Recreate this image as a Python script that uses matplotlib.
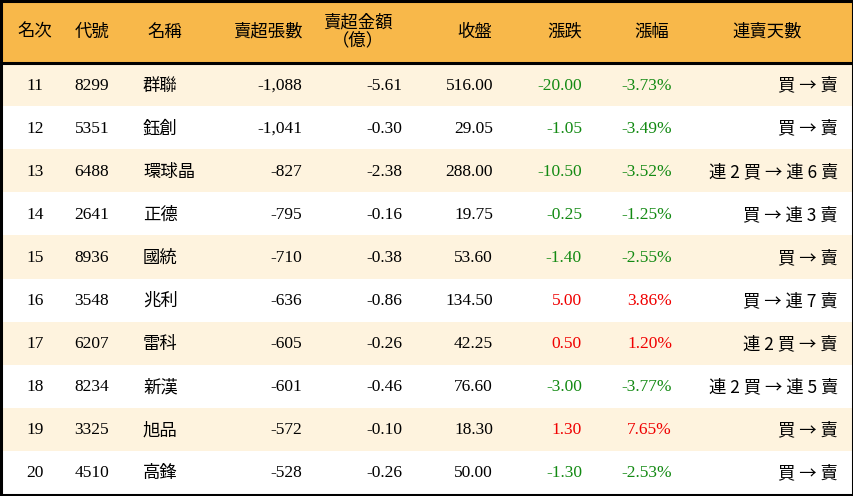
import matplotlib
matplotlib.use("Agg")
import matplotlib.pyplot as plt
from matplotlib.patches import Rectangle
from matplotlib import font_manager

headers = ["名次", "代號", "名稱", "賣超張數", "賣超金額\n（億）", "收盤", "漲跌", "漲幅", "連賣天數"]
ranks = ["11", "12", "13", "14", "15", "16", "17", "18", "19", "20"]
codes = ["8299", "5351", "6488", "2641", "8936", "3548", "6207", "8234", "3325", "4510"]
names = ["群聯", "鈺創", "環球晶", "正德", "國統", "兆利", "雷科", "新漢", "旭品", "高鋒"]
net_sell = ["-1,088", "-1,041", "-827", "-795", "-710", "-636", "-605", "-601", "-572", "-528"]
amount = ["-5.61", "-0.30", "-2.38", "-0.16", "-0.38", "-0.86", "-0.26", "-0.46", "-0.10", "-0.26"]
close = ["516.00", "29.05", "288.00", "19.75", "53.60", "134.50", "42.25", "76.60", "18.30", "50.00"]
change = ["-20.00", "-1.05", "-10.50", "-0.25", "-1.40", "5.00", "0.50", "-3.00", "1.30", "-1.30"]
pct = ["-3.73%", "-3.49%", "-3.52%", "-1.25%", "-2.55%", "3.86%", "1.20%", "-3.77%", "7.65%", "-2.53%"]
streak = ["買 → 賣", "買 → 賣", "連 2 買 → 連 6 賣", "買 → 連 3 賣", "買 → 賣", "買 → 連 7 賣",
          "連 2 買 → 賣", "連 2 買 → 連 5 賣", "買 → 賣", "買 → 賣"]

W, H = 854, 496
fig = plt.figure(figsize=(W/100, H/100), dpi=100)
ax = fig.add_axes([0, 0, 1, 1])
ax.set_xlim(0, W); ax.set_ylim(H, 0); ax.axis("off")

avail = {f.name for f in font_manager.fontManager.ttflist}
cjk = [n for n in ["Noto Sans CJK TC", "Noto Sans CJK JP", "Noto Sans CJK SC", "Noto Sans CJK KR"] if n in avail]
font = ["Liberation Serif"] + cjk
fs = 12.5

def has_cjk(s):
    return any(ord(ch) > 0x2000 and ch != "→" for ch in s)

def fam(s):
    return cjk if (has_cjk(s) and cjk) else font

hdr_h = 63
row_h = (H - 2 - hdr_h) / 10
ax.add_patch(Rectangle((0, 0), W, hdr_h, color="#F8B84A", lw=0))
for i in range(10):
    y0 = hdr_h + i * row_h
    ax.add_patch(Rectangle((0, y0), W, row_h, color="#FEF3DE" if i % 2 == 0 else "white", lw=0))
ax.plot([0, W], [hdr_h, hdr_h], color="black", lw=2.2)
ax.add_patch(Rectangle((1, 1), W-2, H-2, fill=False, ec="black", lw=2.2))

cols = [(35, "center"), (92, "center"), (143, "left"), (302, "right"), (402, "right"),
        (493, "right"), (582, "right"), (672, "right"), (838, "right")]
hdr_pos = [(35, "center"), (92, "center"), (165, "center"), (268, "center"), (358, "center"),
           (475, "center"), (565, "center"), (652, "center"), (767, "center")]
for (x, ha), t in zip(hdr_pos, headers):
    ax.text(x, hdr_h/2, t, ha=ha, va="center", fontsize=fs, family=fam(t), linespacing=0.95)

for i in range(10):
    y = hdr_h + (i + 0.5) * row_h + 1
    col = "#138A13" if change[i].startswith("-") else "#F00000"
    vals = [ranks[i], codes[i], names[i], net_sell[i], amount[i], close[i], change[i], pct[i], streak[i]]
    for j, ((x, ha), v) in enumerate(zip(cols, vals)):
        c = col if j in (6, 7) else "black"
        ax.text(x, y, v, ha=ha, va="center", fontsize=fs, family=fam(v), color=c)

fig.savefig("out.png", dpi=100)
